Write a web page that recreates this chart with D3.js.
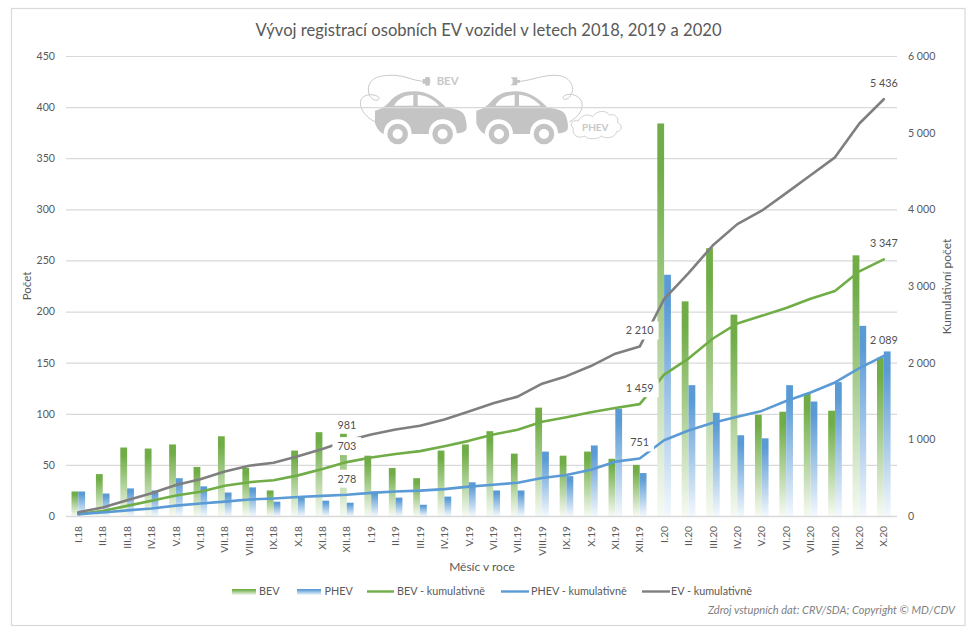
<!DOCTYPE html>
<html><head><meta charset="utf-8">
<script src="https://cdn.jsdelivr.net/npm/d3@7"></script>
<style>html,body{margin:0;padding:0;background:#fff}svg{display:block;font-family:Lato,"Open Sans",sans-serif}</style>
</head><body><svg id="c" width="977" height="641"></svg>
<script>
const months = ["I.18","II.18","III.18","IV.18","V.18","VI.18","VII.18","VIII.18","IX.18","X.18","XI.18","XII.18",
"I.19","II.19","III.19","IV.19","V.19","VI.19","VII.19","VIII.19","IX.19","X.19","XI.19","XII.19",
"I.20","II.20","III.20","IV.20","V.20","VI.20","VII.20","VIII.20","IX.20","X.20"];
const bev = [24,41,67,66,70,48,78,47,25,64,82,91,59,47,37,64,70,83,61,106,59,63,56,50,384,210,262,197,99,102,120,103,255,155];
const phev = [24,22,27,25,37,29,23,28,14,19,15,13,24,18,11,19,33,25,25,63,39,69,105,42,236,128,101,79,76,128,112,131,186,161];
const bevCum = [24,65,132,198,268,316,394,441,466,530,612,703,762,809,846,910,980,1063,1124,1230,1289,1352,1408,1459,1843,2053,2315,2512,2611,2713,2833,2936,3191,3347];
const phevCum = [24,46,73,98,135,164,187,215,229,248,263,278,302,320,331,350,383,408,433,496,535,604,709,751,987,1115,1216,1295,1371,1499,1611,1742,1928,2089];
const evCum = [48,111,205,296,403,480,581,656,695,778,875,981,1064,1129,1177,1260,1363,1471,1557,1726,1824,1956,2117,2210,2830,3168,3531,3807,3982,4212,4444,4678,5119,5436];
const leftTicks = [0,50,100,150,200,250,300,350,400,450];
const rightTicks = [0,1000,2000,3000,4000,5000,6000];
const labelled = ["XII.18","XII.19","X.20"];
const titleText = "Vývoj registrací osobních EV vozidel v letech 2018, 2019 a 2020";
const sourceText = "Zdroj vstupních dat: CRV/SDA; Copyright © MD/CDV";

const svg = d3.select("#c");
const txt = "#595959", grid = "#d9d9d9";
const cz = d3.formatLocale({decimal:",",thousands:" ",grouping:[3],currency:["","" ]}).format(",d");

const defs = svg.append("defs");
function grad(id,c,end){
  const g = defs.append("linearGradient").attr("id",id).attr("x1",0).attr("y1",0).attr("x2",0).attr("y2",1);
  g.append("stop").attr("offset","0").attr("stop-color",c);
  g.append("stop").attr("offset","0.12").attr("stop-color",c);
  g.append("stop").attr("offset","1").attr("stop-color",end);
}
grad("gB","#70ad47","#f6faf3"); grad("gP","#5b9bd5","#f3f8fc");

// frame
svg.append("rect").attr("x",11.5).attr("y",8.5).attr("width",953.5).attr("height",617).attr("fill","#fff").attr("stroke","#d9d9d9").attr("stroke-width",1.2);

svg.append("text").attr("x",488.5).attr("y",36).attr("text-anchor","middle").attr("font-size",16.6).attr("fill",txt).text(titleText);

// scales
const x = d3.scaleBand().domain(months).range([66.1,896]);
const bw = x.bandwidth();
const sub = d3.scaleBand().domain(["BEV","PHEV"]).range([0,bw]).paddingInner(0).paddingOuter(.795);
const y = d3.scaleLinear().domain([0,450]).range([516,56]);
const yR = d3.scaleLinear().domain([0,6000]).range([516,56]);
const cx = m => x(m)+bw/2;

// illustration (decorative)
const deco = svg.append("g").attr("transform","translate(340,60) scale(.3333)");
const carBody = "M105,152 C125,146 133,142 148,126 C168,103 190,94 222,94 C262,94 288,112 318,142 C345,148 368,150 374,168 C380,185 381,200 379,208 C376,216 362,220 350,220 C350,195 332,178 308,178 C284,178 266,197 266,222 L215,222 C215,197 197,178 173,178 C149,178 131,197 131,222 C120,218 110,205 105,190 Z";
function car(dx){
  const g = deco.append("g").attr("transform",`translate(${dx},0)`);
  g.append("path").attr("d",carBody).attr("fill","#c4c4c4");
  g.append("path").attr("d","M162,137 C172,118 190,106 220,104 L220,137 Z").attr("fill","#fff");
  g.append("path").attr("d","M233,104 C262,106 282,120 298,137 L233,137 Z").attr("fill","#fff");
  [173,308].forEach(c=>{
    g.append("circle").attr("cx",c).attr("cy",222).attr("r",31).attr("fill","#c4c4c4");
    g.append("circle").attr("cx",c).attr("cy",222).attr("r",15).attr("fill","#fff");
  });
}
car(0); car(304);
deco.append("path").attr("d","M105,185 C70,170 50,130 68,112 C85,98 115,105 118,115 C112,128 85,118 85,90 C85,50 125,45 165,46 C195,47 220,62 248,64").attr("fill","none").attr("stroke","#c8c8c8").attr("stroke-width",3);
deco.append("path").attr("d","M248,57 h8 v-6 h12 q6,12 0,26 h-12 v-6 h-8 Z").attr("fill","#c4c4c4");
deco.append("path").attr("d","M540,64 C580,60 610,44 650,46 C690,48 705,80 695,100 C685,125 665,120 670,110 C680,98 715,100 725,125 C732,150 715,170 688,186").attr("fill","none").attr("stroke","#c8c8c8").attr("stroke-width",3);
deco.append("path").attr("d","M540,60 h-8 v-8 h-20 l6,6 v12 l-6,6 h20 v-8 h8 Z").attr("fill","#c4c4c4");
deco.append("path").attr("d","M700,205 C685,190 700,178 715,183 C722,165 745,160 758,170 C770,150 800,150 808,165 C825,160 838,175 832,187 C850,195 845,215 830,215 C825,235 795,238 785,228 C770,240 740,238 735,228 C715,238 695,225 700,205 Z").attr("fill","#fff").attr("stroke","#c8c8c8").attr("stroke-width",2.5);
deco.append("text").attr("x",290).attr("y",76).attr("font-size",34).attr("font-weight",700).attr("fill","#c8c8c8").text("BEV");
deco.append("text").attr("x",726).attr("y",212).attr("font-size",30).attr("font-weight",700).attr("fill","#c8c8c8").text("PHEV");

// grid
svg.append("g").selectAll("line").data(leftTicks.filter(d=>d>0)).join("line")
  .attr("x1",66).attr("x2",897).attr("y1",d=>y(d)+.5).attr("y2",d=>y(d)+.5).attr("stroke",grid).attr("stroke-width",1.2);

// bars
svg.append("g").selectAll("rect").data(months).join("rect")
  .attr("x",m=>x(m)+sub("BEV")).attr("width",sub.bandwidth())
  .attr("y",(m,i)=>y(bev[i])).attr("height",(m,i)=>y(0)-y(bev[i])).attr("fill","url(#gB)");
svg.append("g").selectAll("rect").data(months).join("rect")
  .attr("x",m=>x(m)+sub("PHEV")).attr("width",sub.bandwidth())
  .attr("y",(m,i)=>y(phev[i])).attr("height",(m,i)=>y(0)-y(phev[i])).attr("fill","url(#gP)");

// zero line
svg.append("line").attr("x1",66).attr("x2",897).attr("y1",516.5).attr("y2",516.5).attr("stroke",grid).attr("stroke-width",1.6);

// lines
const line = d3.line().x((d,i)=>cx(months[i])).y(d=>yR(d));
[[bevCum,"#70ad47"],[phevCum,"#5b9bd5"],[evCum,"#7f7f7f"]].forEach(([s,c])=>{
  svg.append("path").attr("d",line(s)).attr("fill","none").attr("stroke",c).attr("stroke-width",2.6).attr("stroke-linecap","round").attr("stroke-linejoin","round");
});

// data labels
const lab = svg.append("g");
labelled.forEach(m=>{
  const i = months.indexOf(m);
  [evCum,bevCum,phevCum].forEach(s=>{
    const v = s[i], ty = yR(v)-16, tx = cx(m);
    const g = lab.append("g");
    const t = g.append("text").attr("x",tx).attr("y",ty).attr("dy","0.36em").attr("text-anchor","middle").attr("font-size",10.8).attr("fill","#505050").text(cz(v));
    if(m!=="X.20"){
      const w = t.node().getComputedTextLength()+10;
      g.insert("rect","text").attr("fill","#fff").attr("x",tx-w/2).attr("y",ty-9).attr("width",w).attr("height",18);
    }
  });
});

// axes
function style(g){
  g.select(".domain").remove(); g.selectAll(".tick line").remove();
  g.selectAll("text").attr("fill",txt).attr("font-size",10.6).attr("font-family","Lato");
}
svg.append("g").attr("transform","translate(55,0)").call(d3.axisLeft(y).tickValues(leftTicks).tickSize(0).tickPadding(0)).call(style);
svg.append("g").attr("transform","translate(908,0)").call(d3.axisRight(yR).tickValues(rightTicks).tickFormat(cz).tickSize(0).tickPadding(0)).call(style);
svg.append("g").attr("transform","translate(0,526)").call(d3.axisBottom(x).tickSize(0).tickPadding(0)).call(style)
  .selectAll("text").attr("transform","rotate(-90)").attr("text-anchor","end").attr("x",0).attr("y",0).attr("dy","0.36em").attr("font-size",10.2);

// axis titles
svg.append("text").attr("transform","translate(27,286) rotate(-90)").attr("text-anchor","middle").attr("dy","0.36em").attr("font-size",11.5).attr("fill",txt).text("Počet");
svg.append("text").attr("transform","translate(947,286.5) rotate(-90)").attr("text-anchor","middle").attr("dy","0.36em").attr("font-size",12).attr("fill",txt).text("Kumulativní počet");
svg.append("text").attr("x",482).attr("y",567).attr("dy","0.36em").attr("text-anchor","middle").attr("font-size",12).attr("fill",txt).text("Měsíc v roce");

// legend
const legend = [
 {t:"BEV",k:"b",c:"url(#gB)",x0:232,x1:256,tx:259},
 {t:"PHEV",k:"b",c:"url(#gP)",x0:297,x1:321,tx:324.5},
 {t:"BEV - kumulativně",k:"l",c:"#70ad47",x0:367,x1:394,tx:397},
 {t:"PHEV - kumulativně",k:"l",c:"#5b9bd5",x0:501,x1:529,tx:531},
 {t:"EV - kumulativně",k:"l",c:"#7f7f7f",x0:642,x1:670,tx:671}];
const lg = svg.append("g");
legend.forEach(d=>{
  if(d.k==="b") lg.append("rect").attr("x",d.x0).attr("y",589).attr("width",d.x1-d.x0).attr("height",6).attr("fill",d.c);
  else lg.append("line").attr("x1",d.x0).attr("x2",d.x1).attr("y1",591.5).attr("y2",591.5).attr("stroke",d.c).attr("stroke-width",2.4);
  lg.append("text").attr("x",d.tx).attr("y",591).attr("dy","0.36em").attr("font-size",10.8).attr("fill",txt).text(d.t);
});
svg.append("text").attr("x",955).attr("y",610).attr("dy","0.36em").attr("text-anchor","end").attr("font-size",11.1).attr("font-style","italic").attr("fill","#7f7f7f").text(sourceText);
</script></body></html>
